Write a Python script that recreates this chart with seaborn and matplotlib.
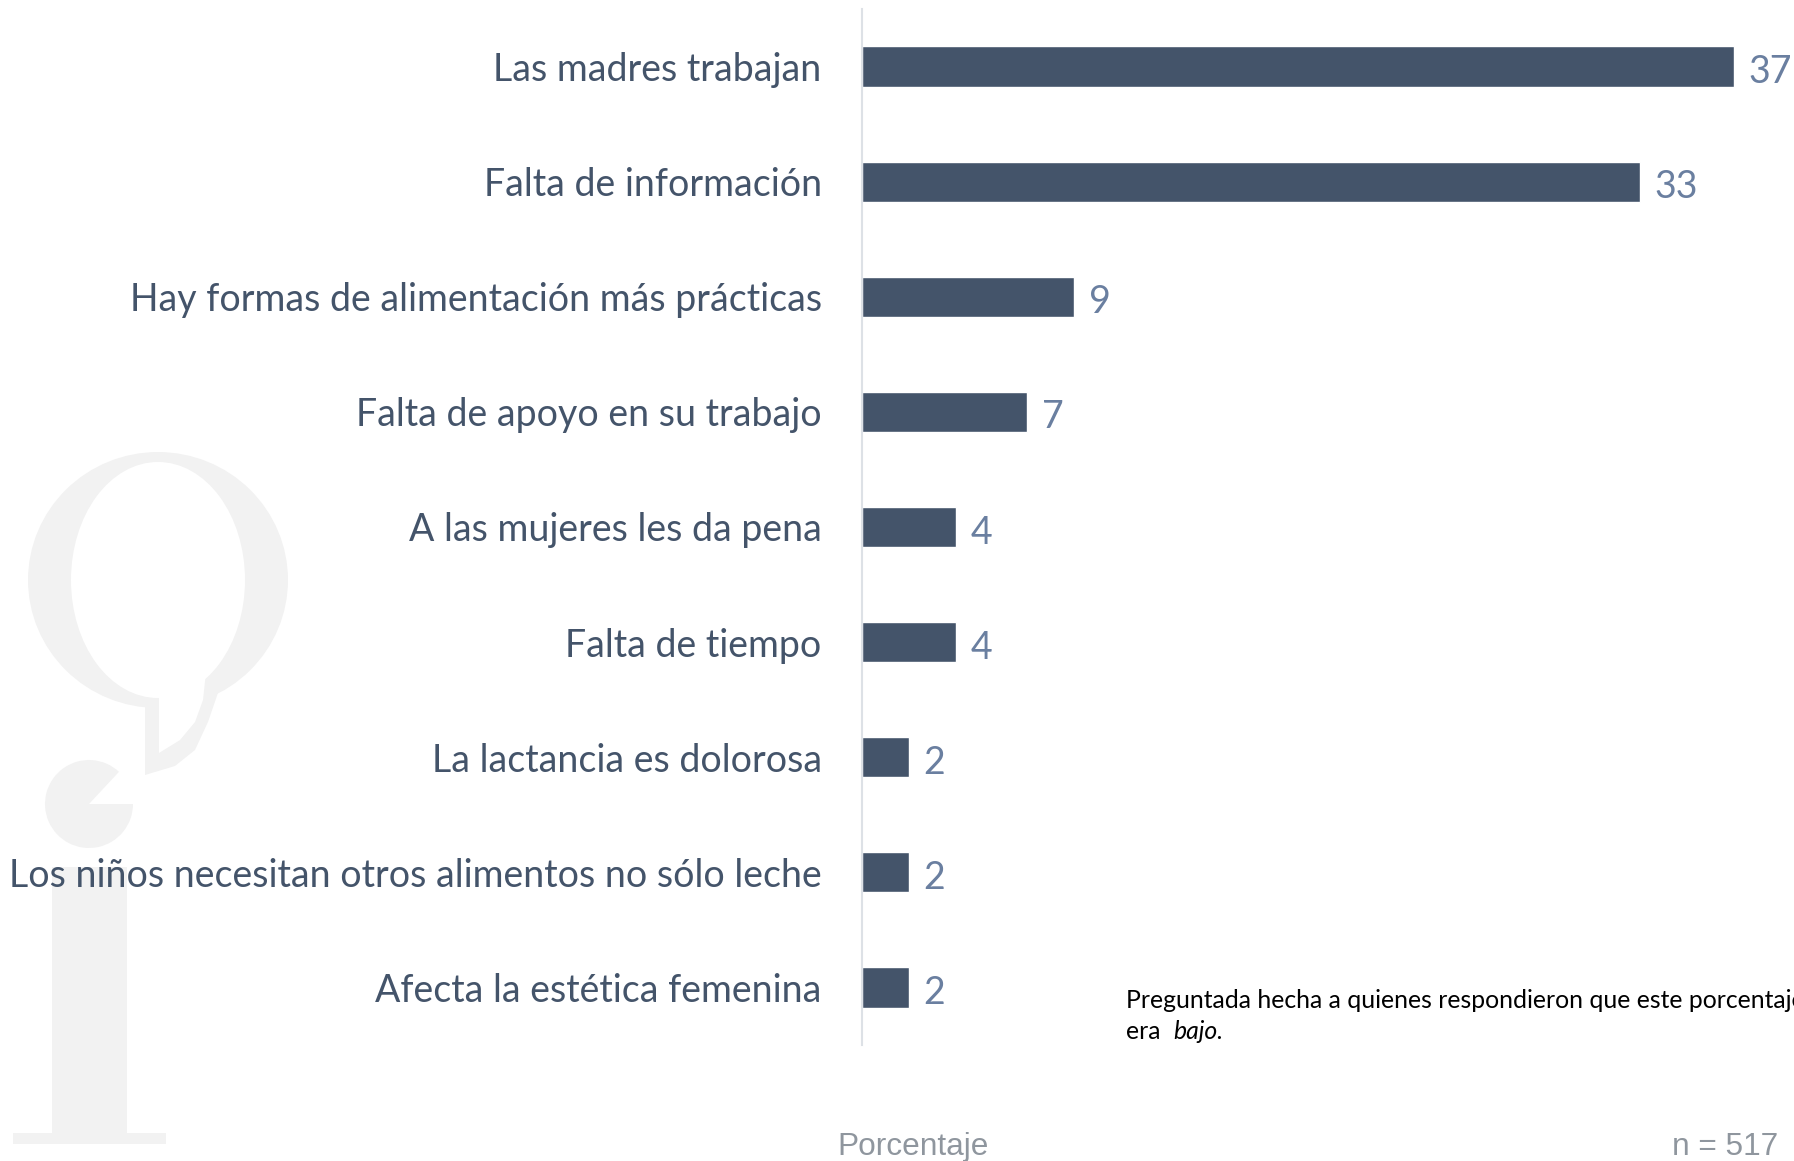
import pandas as pd
import seaborn as sns
import matplotlib.pyplot as plt
from matplotlib.patches import Ellipse, Polygon, Wedge, Rectangle

# datos
categorias = [
    "Las madres trabajan",
    "Falta de información",
    "Hay formas de alimentación más prácticas",
    "Falta de apoyo en su trabajo",
    "A las mujeres les da pena",
    "Falta de tiempo",
    "La lactancia es dolorosa",
    "Los niños necesitan otros alimentos no sólo leche",
    "Afecta la estética femenina",
]
porcentajes = [37, 33, 9, 7, 4, 4, 2, 2, 2]

nota = "Preguntada hecha a quienes respondieron que este porcentaje"
eje_titulo = "Porcentaje"
muestra = "n = 517"

BAR_COLOR = "#44546A"
LABEL_COLOR = "#44546A"
VALUE_COLOR = "#6A7FA0"
WM_COLOR = "#F2F2F2"

sns.set_style("white")
plt.rcParams["font.family"] = ["Lato", "DejaVu Sans"]

df = pd.DataFrame({"categoria": categorias, "porcentaje": porcentajes})

W, H = 1794, 1161
fig = plt.figure(figsize=(W / 100, H / 100), dpi=100)

# marca de agua (logo) en coordenadas de pixel
bg = fig.add_axes([0, 0, 1, 1], zorder=-1)
bg.set_xlim(0, W)
bg.set_ylim(H, 0)
bg.axis("off")
bg.add_patch(Ellipse((158, 580), 260, 256, color=WM_COLOR, lw=0))
bg.add_patch(Polygon([(145, 690), (145, 775), (175, 766), (195, 750), (208, 722),
                      (219, 690)], closed=True, color=WM_COLOR, lw=0))
bg.add_patch(Ellipse((158, 580), 174, 236, color="white", lw=0))
bg.add_patch(Polygon([(159, 690), (159, 753), (180, 740), (195, 722), (203, 700),
                      (206, 672)], closed=True, color="white", lw=0))
bg.add_patch(Wedge((89, 804), 44, 0, 313, color=WM_COLOR, lw=0))
bg.add_patch(Rectangle((52, 867), 75, 266, color=WM_COLOR, lw=0))
bg.add_patch(Rectangle((13, 1133), 153, 11, color=WM_COLOR, lw=0))

ax = fig.add_axes([862 / W, 1 - 1045 / H, 1 - 862 / W, (1045 - 9) / H])
ax.set_facecolor("none")
sns.barplot(data=df, x="porcentaje", y="categoria", color=BAR_COLOR,
            width=0.35, saturation=1, ax=ax)
ax.set_xlim(0, (W - 862) / 23.57)
ax.set_ylim(8.5, -0.5)

for i, v in enumerate(porcentajes):
    ax.annotate(str(v), (v, i), xytext=(10.5, -4), textcoords="offset points",
                ha="left", va="center", fontsize=27, color=VALUE_COLOR)

sns.despine(ax=ax, left=False, bottom=True)
ax.spines["left"].set_color("#DDE1E6")
ax.spines["left"].set_linewidth(1.5)
ax.set_xticks([])
ax.set_xlabel("")
ax.set_ylabel("")
ax.tick_params(axis="y", length=0, pad=29, labelsize=27, labelcolor=LABEL_COLOR)

fig.text(1126 / W, 1 - 1008 / H, nota, fontsize=17.8, color="black", va="baseline")
fig.text(1126 / W, 1 - 1039 / H, "era", fontsize=17.8, color="black", va="baseline")
fig.text(1173 / W, 1 - 1039 / H, "bajo.", fontsize=17.8, color="black",
         style="italic", va="baseline")

fig.text(913 / W, 1 - 1155 / H, eje_titulo, fontsize=22.8, color="#8F969E",
         ha="center", va="baseline", family="Liberation Sans")
fig.text(1672 / W, 1 - 1155 / H, muestra, fontsize=22.8, color="#8F969E",
         ha="left", va="baseline", family="Liberation Sans")

fig.savefig("out.png", dpi=100)
